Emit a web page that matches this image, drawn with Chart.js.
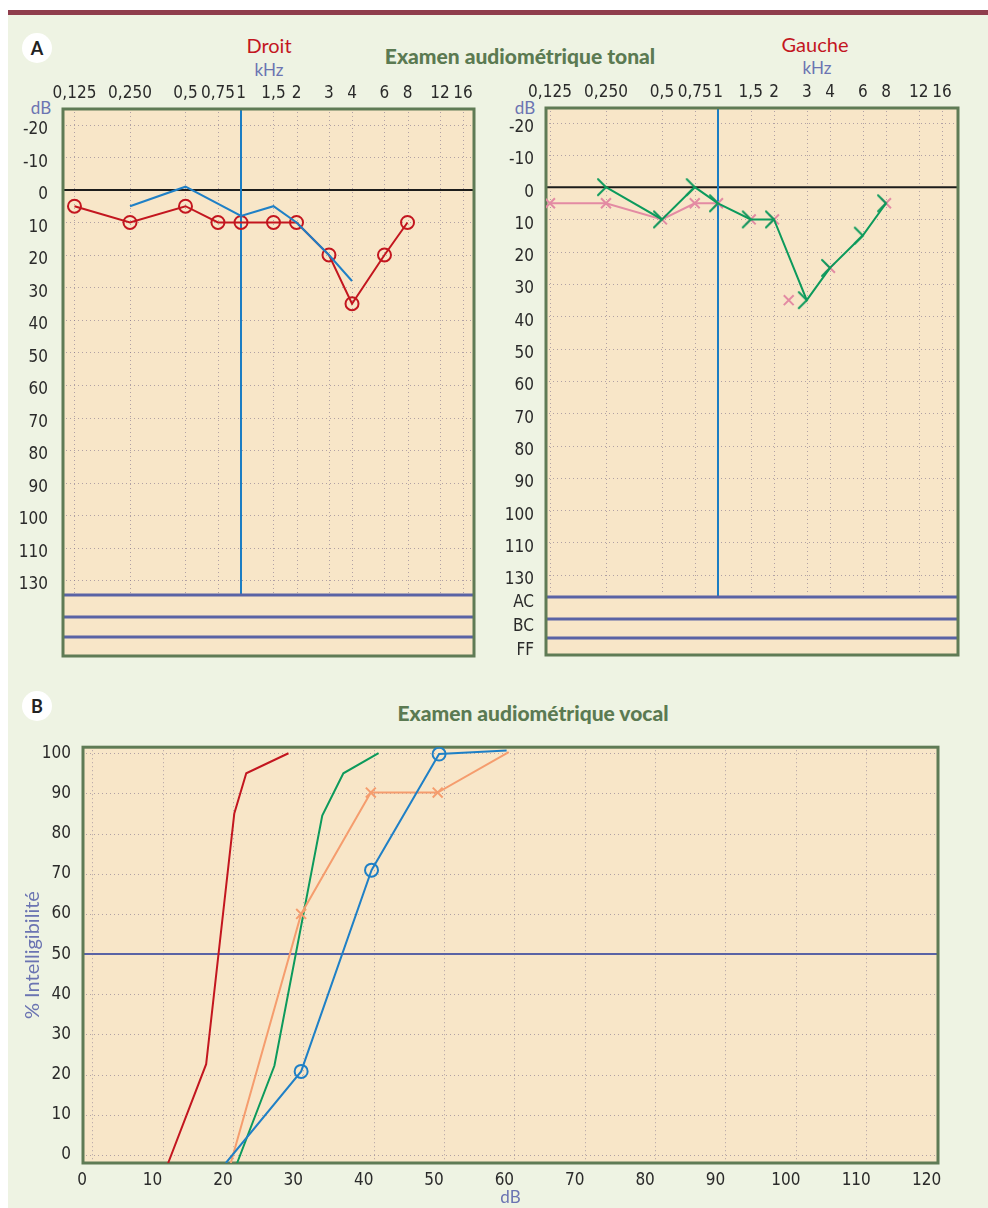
<!DOCTYPE html>
<html lang="fr">
<head>
<meta charset="utf-8">
<title>Examen audiométrique</title>
<script src="https://cdn.jsdelivr.net/npm/chart.js@4.4.1/dist/chart.umd.min.js"></script>
<style>
  html, body { margin: 0; padding: 0; }
  body { width: 988px; height: 1208px; position: relative; overflow: hidden; background: #fff; font-family: Lato, 'Open Sans', sans-serif; }
  .sheet { position: absolute; left: 8px; top: 10px; width: 980px; height: 1198px; background: #eef3e3; border-top: 5px solid #8f3d4c; box-sizing: border-box; }
  .txt { position: absolute; white-space: nowrap; transform: translate(-50%, -50%); }
  .badge { position: absolute; width: 30px; height: 30px; border-radius: 50%; background: #fff; color: #222; font: bold 18px Lato, sans-serif; text-align: center; line-height: 30px; }
  .heading { font-weight: 900; font-size: 21px; color: #5b7a52; }
  .side { font-size: 20px; color: #c3161f; }
  .unit { font-size: 17px; color: #6b74b2; }
  canvas { position: absolute; }
</style>
</head>
<body>
<div class="sheet"></div>
<div class="badge" style="left:22px;top:33px">A</div>
<div class="txt heading" style="left:520px;top:55px">Examen audiométrique tonal</div>
<div class="txt side" style="left:269px;top:45px">Droit</div>
<div class="txt unit" style="left:269px;top:69px">kHz</div>
<div class="txt side" style="left:815px;top:44px">Gauche</div>
<div class="txt unit" style="left:817px;top:67px">kHz</div>
<div class="txt unit" style="left:41px;top:107px">dB</div>
<div class="txt unit" style="left:525px;top:107px">dB</div>
<div class="badge" style="left:22px;top:691px">B</div>
<div class="txt heading" style="left:533px;top:712px">Examen audiométrique vocal</div>

<canvas id="droit" width="494" height="610" style="left:0;top:60px"></canvas>
<canvas id="gauche" width="494" height="610" style="left:494px;top:60px"></canvas>
<canvas id="vocal" width="988" height="483" style="left:0;top:725px"></canvas>

<script>
// Audiogramme tonal : fréquences (kHz) et seuils (dB)
const freqTicks = [0.125, 0.25, 0.5, 0.75, 1, 1.5, 2, 3, 4, 6, 8, 12, 16];
const freqLabels = ['0,125', '0,250', '0,5', '0,75', '1', '1,5', '2', '3', '4', '6', '8', '12', '16'];
const dbTicks = [-20, -10, 0, 10, 20, 30, 40, 50, 60, 70, 80, 90, 100, 110, 120];
const dbLabels = ['-20', '-10', '0', '10', '20', '30', '40', '50', '60', '70', '80', '90', '100', '110', '130'];
const bandLabels = ['AC', 'BC', 'FF'];

// oreille droite
const droitFreqs = [0.125, 0.25, 0.5, 0.75, 1, 1.5, 2, 3, 4, 6, 8];
const droitAerien = [5, 10, 5, 10, 10, 10, 10, 20, 35, 20, 10];
const droitOsseuxFreqs = [0.25, 0.5, 1, 1.5, 2, 3, 4];
const droitOsseux = [5, -1, 8, 5, 10, 20, 28];

// oreille gauche
const gaucheFreqs = [0.125, 0.25, 0.5, 0.75, 1, 1.5, 2, 2.4, 4, 8];
const gaucheAerien = [5, 5, 10, 5, 5, 10, 10, 35, 25, 5];
const gaucheOsseuxFreqs = [0.25, 0.5, 0.75, 1, 1.5, 2, 3, 4, 6, 8];
const gaucheOsseux = [0, 10, 0, 5, 10, 10, 35, 25, 15, 5];

// Audiométrie vocale : intensité (dB) / % intelligibilité
const vocalTicksX = [0, 10, 20, 30, 40, 50, 60, 70, 80, 90, 100, 110, 120];
const vocalTicksY = [0, 10, 20, 30, 40, 50, 60, 70, 80, 90, 100];
const rougeDb = [10.8, 16.2, 20.2, 21.9, 27.9];
const rougePct = [-2, 22.6, 85, 95, 100];
const vertDb = [20.6, 25.9, 32.7, 35.7, 40.7];
const vertPct = [-2, 22.2, 84.5, 95, 100];
const orangeDb = [19.7, 29.7, 39.6, 49.1, 59.2];
const orangePct = [-2, 60, 90.2, 90.2, 100.3];
const bleuDb = [19.0, 29.7, 39.7, 49.3, 58.9];
const bleuPct = [-2, 20.8, 70.9, 99.8, 100.7];

const RED = '#c3161f', BLUE = '#1f80c6', GREEN = '#0c9a5c', PINK = '#e38ba3', ORANGE = '#f59d6e';
const BAND = '#5a63a5', FRAME = '#5f7b55', PLOT_BG = '#f8e6c8', GRID = 'rgba(130,115,140,0.6)';
const UNIT_COLOR = '#6b74b2';
const TICK_FONT = { family: "'DejaVu Sans Condensed', 'Liberation Sans Narrow', 'DejaVu Sans', sans-serif", size: 17 };

const pairs = (xs, ys) => xs.map((v, i) => ({ x: v, y: ys[i] }));

function boneMarker(color) {
  const c = document.createElement('canvas');
  c.width = 22; c.height = 20;
  const g = c.getContext('2d');
  g.strokeStyle = color; g.lineWidth = 2; g.lineCap = 'round';
  g.beginPath(); g.moveTo(3, 2); g.lineTo(11, 10); g.lineTo(3, 18); g.stroke();
  return c;
}

function dottedGrid(ctx, a, xs, ys) {
  ctx.save();
  ctx.strokeStyle = GRID; ctx.lineWidth = 1; ctx.setLineDash([1, 3]);
  ctx.beginPath();
  xs.forEach(px => { px = Math.round(px) + 0.5; ctx.moveTo(px, a.top + 3); ctx.lineTo(px, a.bottom - 2); });
  ys.forEach(py => { py = Math.round(py) + 0.5; ctx.moveTo(a.left + 3, py); ctx.lineTo(a.right - 3, py); });
  ctx.stroke();
  ctx.restore();
}

const audiogramFrame = {
  id: 'audiogramFrame',
  beforeDatasetsDraw(chart, args, opts) {
    const { ctx, chartArea: a, scales: { x, y } } = chart;
    const frameBottom = a.bottom + opts.frameBottom;
    ctx.save();
    ctx.fillStyle = PLOT_BG;
    ctx.fillRect(a.left, a.top, a.right - a.left, frameBottom - a.top);
    dottedGrid(ctx, a, freqTicks.map(f => x.getPixelForValue(f)), dbTicks.map(v => y.getPixelForValue(v)));

    // référence 0 dB
    const y0 = y.getPixelForValue(0);
    ctx.strokeStyle = '#1d1d1b'; ctx.lineWidth = 2;
    ctx.beginPath(); ctx.moveTo(a.left - 1, y0); ctx.lineTo(a.right, y0); ctx.stroke();

    // repère 1 kHz
    const x1 = x.getPixelForValue(1);
    ctx.strokeStyle = '#1b7dc3'; ctx.lineWidth = 2;
    ctx.beginPath(); ctx.moveTo(x1, a.top); ctx.lineTo(x1, a.bottom); ctx.stroke();

    // bandes AC / BC / FF
    ctx.strokeStyle = BAND; ctx.lineWidth = 3;
    opts.lines.forEach(d => {
      ctx.beginPath(); ctx.moveTo(a.left, a.bottom + d); ctx.lineTo(a.right, a.bottom + d); ctx.stroke();
    });
    if (opts.showLabels) {
      ctx.fillStyle = '#2a2a2a';
      ctx.font = `${TICK_FONT.size}px ${TICK_FONT.family}`;
      ctx.textAlign = 'right'; ctx.textBaseline = 'middle';
      bandLabels.forEach((t, i) => ctx.fillText(t, a.left - 12, a.bottom + opts.labelY[i]));
    }

    ctx.strokeStyle = FRAME; ctx.lineWidth = 3;
    ctx.strokeRect(a.left, a.top, a.right - a.left, frameBottom - a.top);
    ctx.restore();
  }
};

function audiogram(id, cfg) {
  return new Chart(document.getElementById(id), {
    type: 'line',
    data: { datasets: cfg.datasets },
    plugins: [audiogramFrame],
    options: {
      responsive: false,
      animation: false,
      layout: { padding: { left: 0, top: 0, right: cfg.padRight, bottom: cfg.padBottom } },
      plugins: {
        legend: { display: false },
        tooltip: { enabled: false },
        audiogramFrame: cfg.frame
      },
      scales: {
        x: {
          type: 'logarithmic',
          position: 'top',
          min: cfg.xMin, max: cfg.xMax,
          afterBuildTicks: s => { s.ticks = freqTicks.map(v => ({ value: v })); },
          afterFit: s => { s.height = cfg.axisHeight; },
          ticks: { callback: (v, i) => freqLabels[i], autoSkip: false, maxRotation: 0, padding: 5, color: '#2a2a2a', font: TICK_FONT },
          grid: { display: false, drawTicks: false },
          border: { display: false }
        },
        y: {
          type: 'linear',
          reverse: true,
          min: cfg.yMin, max: cfg.yMax,
          afterBuildTicks: s => { s.ticks = dbTicks.map(v => ({ value: v })); },
          afterFit: s => { s.width = cfg.axisWidth; },
          ticks: { callback: (v, i) => dbLabels[i], autoSkip: false, padding: cfg.tickPad, labelOffset: 5, color: '#2a2a2a', font: TICK_FONT },
          grid: { display: false, drawTicks: false },
          border: { display: false }
        }
      }
    }
  });
}

audiogram('droit', {
  padRight: 20, padBottom: 75, axisHeight: 49, axisWidth: 63, tickPad: 15,
  xMin: 0.1083, xMax: 18.35, yMin: -24.9, yMax: 124.6,
  frame: { lines: [0, 22, 42], frameBottom: 61, showLabels: false },
  datasets: [
    { label: 'Conduction osseuse', data: pairs(droitOsseuxFreqs, droitOsseux),
      borderColor: BLUE, borderWidth: 2, pointRadius: 0 },
    { label: 'Conduction aérienne', data: pairs(droitFreqs, droitAerien),
      borderColor: RED, borderWidth: 2, pointStyle: 'circle', pointRadius: 6.5,
      pointBorderWidth: 2, pointBorderColor: RED, pointBackgroundColor: 'transparent' }
  ]
});

audiogram('gauche', {
  padRight: 30, padBottom: 73, axisHeight: 48, axisWidth: 52, tickPad: 12,
  xMin: 0.119, xMax: 19.5, yMin: -24.5, yMax: 126.9,
  frame: { lines: [0, 22, 41], frameBottom: 58, showLabels: true, labelY: [6, 30, 54] },
  datasets: [
    { label: 'Conduction osseuse', data: pairs(gaucheOsseuxFreqs, gaucheOsseux),
      borderColor: GREEN, borderWidth: 2, pointStyle: boneMarker(GREEN), pointRadius: 8 },
    { label: 'Conduction aérienne', data: pairs(gaucheFreqs, gaucheAerien),
      borderColor: PINK, borderWidth: 2, pointStyle: 'crossRot', pointRadius: 7,
      pointBorderWidth: 2, pointBorderColor: PINK,
      segment: { borderColor: c => c.p1.parsed.x <= 1 ? PINK : 'transparent' } }
  ]
});

const vocalFrame = {
  id: 'vocalFrame',
  beforeDatasetsDraw(chart) {
    const { ctx, chartArea: a, scales: { x, y } } = chart;
    ctx.save();
    ctx.fillStyle = PLOT_BG;
    ctx.fillRect(a.left, a.top, a.right - a.left, a.bottom - a.top);
    dottedGrid(ctx, a, vocalTicksX.slice(0, -1).map(v => x.getPixelForValue(v)), vocalTicksY.map(v => y.getPixelForValue(v)));
    const y50 = y.getPixelForValue(50);
    ctx.strokeStyle = BAND; ctx.lineWidth = 2;
    ctx.beginPath(); ctx.moveTo(a.left, y50); ctx.lineTo(a.right, y50); ctx.stroke();
    ctx.strokeStyle = FRAME; ctx.lineWidth = 3;
    ctx.strokeRect(a.left, a.top, a.right - a.left, a.bottom - a.top);
    ctx.restore();
  }
};

const innerMarker = r => c => (c.dataIndex === 0 || c.dataIndex === c.dataset.data.length - 1) ? 0 : r;

new Chart(document.getElementById('vocal'), {
  type: 'line',
  data: {
    datasets: [
      { label: 'Bleu', data: pairs(bleuDb, bleuPct), borderColor: BLUE, borderWidth: 2,
        pointStyle: 'circle', pointRadius: innerMarker(6.5), pointBorderWidth: 2,
        pointBorderColor: BLUE, pointBackgroundColor: 'transparent' },
      { label: 'Orange', data: pairs(orangeDb, orangePct), borderColor: ORANGE, borderWidth: 2,
        pointStyle: 'crossRot', pointRadius: innerMarker(7), pointBorderWidth: 2, pointBorderColor: ORANGE },
      { label: 'Vert', data: pairs(vertDb, vertPct), borderColor: GREEN, borderWidth: 2, pointRadius: 0 },
      { label: 'Rouge', data: pairs(rougeDb, rougePct), borderColor: RED, borderWidth: 2, pointRadius: 0 }
    ]
  },
  plugins: [vocalFrame],
  options: {
    responsive: false,
    animation: false,
    layout: { padding: { left: 0, top: 15, right: 50, bottom: 0 } },
    plugins: { legend: { display: false }, tooltip: { enabled: false } },
    scales: {
      x: {
        type: 'linear',
        min: -1.3, max: 120.2,
        afterBuildTicks: s => { s.ticks = vocalTicksX.map(v => ({ value: v })); },
        afterFit: s => { s.height = 45; },
        ticks: { autoSkip: false, maxRotation: 0, padding: 7, labelOffset: -10, color: '#2a2a2a', font: TICK_FONT },
        title: { display: true, text: 'dB', color: UNIT_COLOR, font: { family: 'Lato, sans-serif', size: 17 }, padding: { top: 0, bottom: 0 } },
        grid: { display: false, drawTicks: false },
        border: { display: false }
      },
      y: {
        type: 'linear',
        min: -2, max: 101.5,
        afterBuildTicks: s => { s.ticks = vocalTicksY.map(v => ({ value: v })); },
        afterFit: s => { s.width = 83; },
        ticks: { autoSkip: false, padding: 12, color: '#2a2a2a', font: TICK_FONT },
        title: { display: true, text: '% Intelligibilité', color: UNIT_COLOR, font: { family: 'Lato, sans-serif', size: 20 }, padding: { top: 21, bottom: 0 } },
        grid: { display: false, drawTicks: false },
        border: { display: false }
      }
    }
  }
});
</script>
</body>
</html>
